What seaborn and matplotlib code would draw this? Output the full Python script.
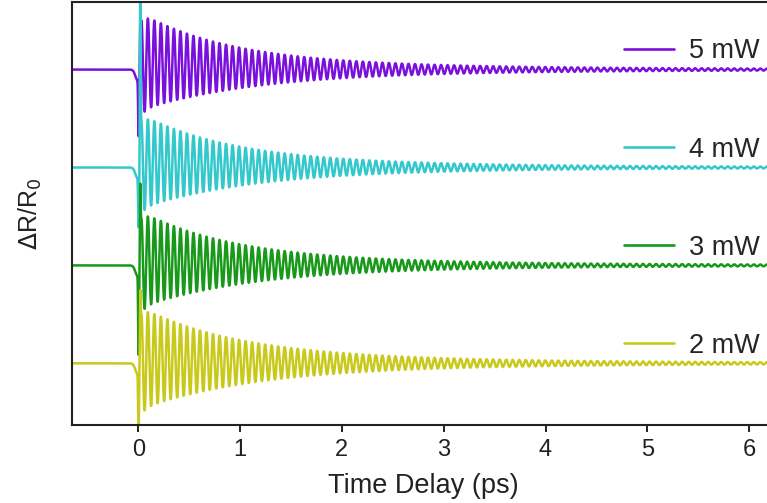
import numpy as np
import pandas as pd
import matplotlib
matplotlib.use("Agg")
import matplotlib.pyplot as plt
import seaborn as sns
from matplotlib.lines import Line2D

# Pump powers and the vertical offset each trace is stacked at
powers = ["2 mW", "3 mW", "4 mW", "5 mW"]
offsets = [0.63, 1.63, 2.63, 3.63]
colors = ["#c9c91c", "#18991a", "#33c8cc", "#7a10dc"]

# Coherent phonon parameters for each power
osc_amp_fast = [0.47, 0.45, 0.44, 0.45]     # fast-decaying amplitude
tau_fast = [1.05, 1.0, 1.0, 1.0]            # ps
osc_amp_slow = [0.06, 0.05, 0.05, 0.055]    # long-lived amplitude
tau_slow = [3.5, 3.5, 3.5, 3.5]             # ps
bg_amp = [0.06, 0.07, 0.07, 0.09]           # transient background
tau_bg = [0.6, 0.6, 0.6, 0.6]               # ps
dip_amp = [0.12, 0.12, 0.12, 0.12]          # electronic dip at zero delay
spike_up = [0.55, 0.65, 1.70, 0.30]         # coherent artifact, positive lobe
spike_down = [0.62, 0.75, 0.45, 0.52]       # coherent artifact, negative lobe
freq_thz = 15.63
first_peak_ps = 0.095

xticks = [0, 1, 2, 3, 4, 5, 6]

t = np.arange(-0.65, 6.2, 0.0008)
tp = np.clip(t, 0, None)
onset_osc = 0.5 * (1 + np.tanh((t - 0.012) / 0.01))
onset_dip = 0.5 * (1 + np.tanh((t + 0.03) / 0.02))

frames = []
for i, p in enumerate(powers):
    env = osc_amp_fast[i] * np.exp(-tp / tau_fast[i]) + osc_amp_slow[i] * np.exp(-tp / tau_slow[i])
    osc = env * np.cos(2 * np.pi * freq_thz * (t - first_peak_ps))
    bg = bg_amp[i] * np.exp(-tp / tau_bg[i])
    dip = -dip_amp[i] * onset_dip * np.exp(-tp / 0.05)
    art = spike_up[i] * np.exp(-((t - 0.02) / 0.005) ** 2) - spike_down[i] * np.exp(-((t - 0.003) / 0.005) ** 2)
    y = offsets[i] + onset_osc * (osc + bg) + dip + art
    frames.append(pd.DataFrame({"t": t, "y": y, "power": p}))
df = pd.concat(frames, ignore_index=True)

sns.set_style("ticks")
plt.rcParams["font.family"] = ["Liberation Sans", "DejaVu Sans"]

fig = plt.figure(figsize=(7.67, 5.03), dpi=100)
ax = fig.add_axes([72 / 767, 78 / 503, 1 - 72 / 767 + 0.01, 423 / 503])

palette = dict(zip(powers, colors))
sns.lineplot(data=df, x="t", y="y", hue="power", hue_order=powers[::-1],
             palette=palette, estimator=None, sort=False, lw=1.8,
             legend=False, ax=ax)

ax.set_xlim(-0.65, 6.25)
ax.set_ylim(0, 4.32)
ax.set_xticks(xticks)
ax.set_yticks([])
ax.tick_params(axis="x", labelsize=17, length=5, width=1.4, colors="#222222", pad=5)
for s in ["left", "bottom", "top"]:
    ax.spines[s].set_linewidth(1.5)
    ax.spines[s].set_color("#222222")
ax.spines["right"].set_visible(False)
ax.set_xlabel("Time Delay (ps)", fontsize=19.5, color="#222222", labelpad=9)
ax.set_ylabel(r"$\Delta$R/R$_0$", fontsize=18, color="#222222", labelpad=20)

handles = [Line2D([], [], color=palette[p], lw=1.9) for p in powers[::-1]]
ax.legend(handles, powers[::-1], loc="upper right", bbox_to_anchor=(1.022, 0.972),
          bbox_transform=fig.transFigure, frameon=False, fontsize=19.5,
          handlelength=1.85, handletextpad=0.55, labelspacing=2.66)

fig.savefig("out.png", dpi=100)
